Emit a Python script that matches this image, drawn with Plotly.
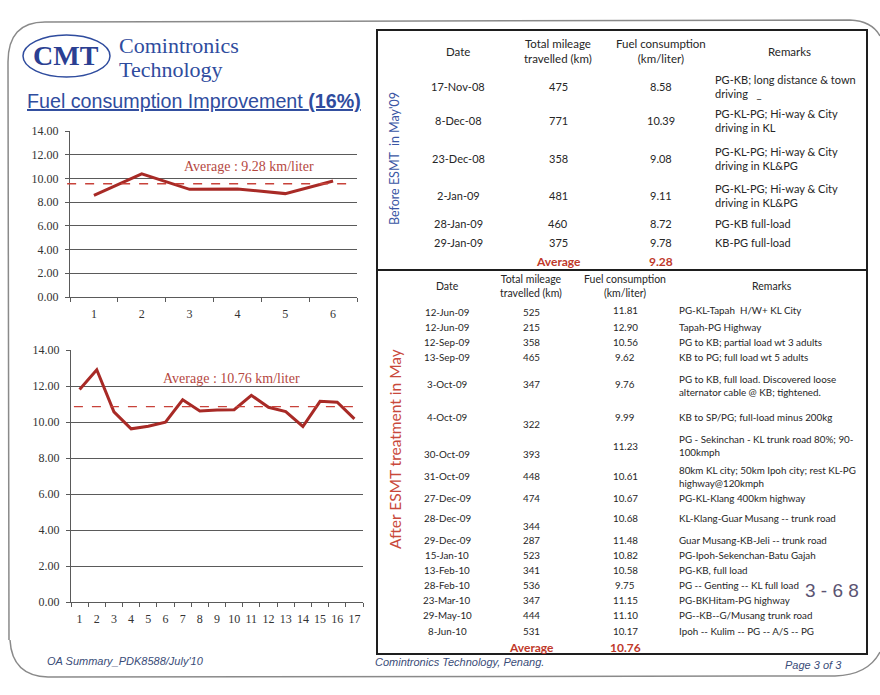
import plotly.graph_objects as go

W, H = 880, 695

# ---------------- data ----------------
before_dates = ["17-Nov-08", "8-Dec-08", "23-Dec-08", "2-Jan-09", "28-Jan-09", "29-Jan-09"]
before_mileage = [475, 771, 358, 481, 460, 375]
before_fuel = [8.58, 10.39, 9.08, 9.11, 8.72, 9.78]
before_remarks = [
    "PG-KB; long distance & town<br>driving   _",
    "PG-KL-PG; Hi-way & City<br>driving in KL",
    "PG-KL-PG; Hi-way & City<br>driving in KL&PG",
    "PG-KL-PG; Hi-way & City<br>driving in KL&PG",
    "PG-KB full-load",
    "KB-PG full-load",
]
before_avg = 9.28
before_avg_line = 9.55  # where the dashed line is drawn in the picture

after_dates = ["12-Jun-09", "12-Jun-09", "12-Sep-09", "13-Sep-09", "3-Oct-09", "4-Oct-09",
               "30-Oct-09", "31-Oct-09", "27-Dec-09", "28-Dec-09", "29-Dec-09", "15-Jan-10",
               "13-Feb-10", "28-Feb-10", "23-Mar-10", "29-May-10", "8-Jun-10"]
after_mileage = [525, 215, 358, 465, 347, 322, 393, 448, 474, 344, 287, 523, 341, 536, 347, 444, 531]
after_fuel = [11.81, 12.90, 10.56, 9.62, 9.76, 9.99, 11.23, 10.61, 10.67, 10.68, 11.48, 10.82,
              10.58, 9.75, 11.15, 11.10, 10.17]
after_remarks = [
    "PG-KL-Tapah  H/W+ KL City",
    "Tapah-PG Highway",
    "PG to KB; partial load wt 3 adults",
    "KB to PG; full load wt 5 adults",
    "PG to KB, full load. Discovered loose<br>alternator cable @ KB; tightened.",
    "KB to SP/PG; full-load minus 200kg",
    "PG - Sekinchan - KL trunk road 80%; 90-<br>100kmph",
    "80km KL city; 50km Ipoh city; rest KL-PG<br>highway@120kmph",
    "PG-KL-Klang 400km highway",
    "KL-Klang-Guar Musang -- trunk road",
    "Guar Musang-KB-Jeli -- trunk road",
    "PG-Ipoh-Sekenchan-Batu Gajah",
    "PG-KB, full load",
    "PG -- Genting -- KL full load",
    "PG-BKHitam-PG highway",
    "PG--KB--G/Musang trunk road",
    "Ipoh -- Kulim -- PG -- A/S -- PG",
]
after_avg = 10.76
after_avg_line = 10.85  # where the dashed line is drawn in the picture

before_x = [str(i + 1) for i in range(len(before_fuel))]
after_x = [str(i + 1) for i in range(len(after_fuel))]
y_ticks = [0, 2, 4, 6, 8, 10, 12, 14]

# ---------------- layout helpers ----------------
def px(x):
    return x / W

def py(y):
    return 1 - y / H

TXT = "#262626"
BLUE = "#2f4c9e"
RED_TXT = "#c0392b"
LINE_RED = "#a82a26"
SERIF = "Liberation Serif"
SANS = "Lato"

annotations = []
shapes = []

def text(x, y, s, size, color=TXT, family=SANS, xanchor="center", angle=0, align="center"):
    annotations.append(dict(
        x=px(x), y=py(y), xref="paper", yref="paper", text=s, showarrow=False,
        xanchor=xanchor, yanchor="middle", align=align, textangle=angle,
        font=dict(family=family, size=size, color=color),
    ))

fig = go.Figure()

# ---------------- charts ----------------
fig.add_trace(go.Scatter(x=before_x, y=before_fuel, mode="lines",
                         line=dict(color=LINE_RED, width=3), xaxis="x", yaxis="y",
                         showlegend=False, hoverinfo="skip"))
fig.add_trace(go.Scatter(x=after_x, y=after_fuel, mode="lines",
                         line=dict(color=LINE_RED, width=3), xaxis="x2", yaxis="y2",
                         showlegend=False, hoverinfo="skip"))

axis_common_y = dict(range=[0, 14], tickvals=y_ticks, tickformat=".2f", showgrid=True,
                     gridcolor="#5a5a5a", gridwidth=1, zeroline=False, showline=True,
                     linecolor="#5a5a5a", linewidth=1, ticks="outside", ticklen=4,
                     tickcolor="#5a5a5a", ticklabelstandoff=4,
                     tickfont=dict(family=SERIF, size=12, color="#333"), automargin=False,
                     fixedrange=True)
axis_common_x = dict(type="category", tickson="boundaries", ticks="outside", ticklen=4,
                     tickcolor="#5a5a5a", showgrid=False, showline=True, linecolor="#5a5a5a",
                     linewidth=1, tickfont=dict(family=SERIF, size=12, color="#333"),
                     tickangle=0, automargin=False, fixedrange=True, ticklabelstandoff=6)

fig.update_layout(
    xaxis=dict(domain=[px(70), px(357)], anchor="y",
               range=[-0.5, len(before_x) - 0.5], **axis_common_x),
    yaxis=dict(domain=[py(297), py(131)], anchor="x", **axis_common_y),
    xaxis2=dict(domain=[px(71), px(363)], anchor="y2",
                range=[-0.5, len(after_x) - 0.5], **axis_common_x),
    yaxis2=dict(domain=[py(602), py(350)], anchor="x2", **axis_common_y),
)

# dashed average lines
shapes.append(dict(type="line", xref="x domain", yref="y", x0=-0.01, x1=0.99,
                   y0=before_avg_line, y1=before_avg_line,
                   line=dict(color="#c8423a", width=1.3, dash="dash")))
shapes.append(dict(type="line", xref="x2 domain", yref="y2", x0=0.01, x1=0.98,
                   y0=after_avg_line, y1=after_avg_line,
                   line=dict(color="#c8423a", width=1.3, dash="dash")))

text(249, 166, "Average : %.2f km/liter" % before_avg, 14, color="#b5483f", family=SERIF)
text(231, 378, "Average : %.2f km/liter" % after_avg, 14, color="#b5483f", family=SERIF)

# ---------------- header / logo ----------------
shapes.append(dict(type="circle", xref="paper", yref="paper", x0=px(23), x1=px(110),
                   y0=py(77), y1=py(35), line=dict(color=BLUE, width=1.5)))
text(66, 56, "<b>CMT</b>", 28, color="#2b3f92", family=SERIF)
text(117, 45, "Comintronics", 22, color=BLUE, family=SERIF, xanchor="left")
text(117, 69, "Technology", 22, color=BLUE, family=SERIF, xanchor="left")
text(25, 101, "<u>Fuel consumption Improvement <b>(16%)</b></u>", 19.7, color=BLUE,
     family="Liberation Sans", xanchor="left")

# ---------------- tables ----------------
# top table
T1 = 11
t1_x = [458, 558, 661]
t1_rem_x = 713
text(t1_x[0], 51, "Date", 11.5)
text(t1_x[1], 51, "Total mileage<br>travelled (km)", 11.5)
text(t1_x[2], 51, "Fuel consumption<br>(km/liter)", 11.5)
text(789, 51, "Remarks", 11.5)
t1_row_y = [87, 121, 158, 195, 224, 242]
for i in range(len(before_dates)):
    yy = t1_row_y[i]
    text(t1_x[0], yy, before_dates[i], T1)
    text(t1_x[1], yy, str(before_mileage[i]), T1)
    text(t1_x[2], yy, "%.2f" % before_fuel[i], T1)
    text(t1_rem_x, yy, before_remarks[i], T1, xanchor="left", align="left")
text(t1_x[1], 262, "<b>Average</b>", 12, color=RED_TXT)
text(t1_x[2], 262, "<b>%.2f</b>" % before_avg, 12, color=RED_TXT)
text(394, 159, "Before ESMT  in May'09", 12.5, color="#3a56a4", angle=-90)

# bottom table
T2 = 9.8
t2_x = [447, 531, 625]
t2_rem_x = 677
text(t2_x[0], 286, "Date", 10.5)
text(t2_x[1], 286, "Total mileage<br>travelled (km)", 10.5)
text(t2_x[2], 286, "Fuel consumption<br>(km/liter)", 10.5)
text(772, 286, "Remarks", 10.5)
t2_row_y = [312, 327, 342, 357, 384, 417, 454, 476, 498, 518, 540, 555, 570, 585, 600, 615, 631]
t2_mile_y = {5: 424, 9: 526}
t2_fuel_y = {0: 310, 6: 446}
t2_rem_y = {0: 310, 4: 385, 6: 445.5}
for i in range(len(after_dates)):
    yy = t2_row_y[i]
    text(t2_x[0], yy, after_dates[i], T2)
    text(t2_x[1], t2_mile_y.get(i, yy), str(after_mileage[i]), T2)
    text(t2_x[2], t2_fuel_y.get(i, yy), "%.2f" % after_fuel[i], T2)
    text(t2_rem_x, t2_rem_y.get(i, yy), after_remarks[i], T2, xanchor="left", align="left")
text(t2_x[1], 647, "<b>Average</b>", 12, color=RED_TXT)
text(t2_x[2], 647, "<b>%.2f</b>" % after_avg, 12, color=RED_TXT)
text(395, 449, "After ESMT treatment in May", 15.5, color="#c9493b", angle=-90)
text(832, 590, "3 - 6 8", 19, color="#5b5472", family="Liberation Sans")

# table frame
shapes.append(dict(type="rect", xref="paper", yref="paper", x0=px(377), x1=px(867),
                   y0=py(654), y1=py(30), line=dict(color="#1e1e1e", width=2)))
shapes.append(dict(type="line", xref="paper", yref="paper", x0=px(377), x1=px(867),
                   y0=py(270), y1=py(270), line=dict(color="#1e1e1e", width=2)))

# ---------------- footer ----------------
FOOT = "#3a4c78"
text(45, 661, "<i>OA Summary_PDK8588/July'10</i>", 11, color=FOOT, family="Liberation Sans",
     xanchor="left")
text(373, 662, "<i>Comintronics Technology, Penang.</i>", 11, color=FOOT,
     family="Liberation Sans", xanchor="left")
text(783, 665, "<i>Page 3 of 3</i>", 11, color=FOOT, family="Liberation Sans", xanchor="left")

# page border (scanned page outline)
def P(x, y):
    return "%.5f,%.5f" % (px(x), py(y))

border = ("M " + P(9, 640) + " L " + P(8, 62) + " Q " + P(8, 22) + " " + P(45, 22) +
          " L " + P(850, 20) + " Q " + P(872, 21) + " " + P(880, 36))
shapes.append(dict(type="path", xref="paper", yref="paper", path=border,
                   line=dict(color="#8a8a8a", width=1.5)))
border2 = ("M " + P(10, 640) + " Q " + P(12, 676) + " " + P(48, 677) +
           " L " + P(835, 676) + " Q " + P(868, 675) + " " + P(880, 652))
shapes.append(dict(type="path", xref="paper", yref="paper", path=border2,
                   line=dict(color="#8a8a8a", width=1.5)))

fig.update_layout(
    width=W, height=H, margin=dict(l=0, r=0, t=0, b=0),
    paper_bgcolor="white", plot_bgcolor="white",
    annotations=annotations, shapes=shapes, showlegend=False,
)

fig.write_html("out.html", config={"displayModeBar": False},
               post_script="document.body.style.margin='0';document.body.style.overflow='hidden';")
